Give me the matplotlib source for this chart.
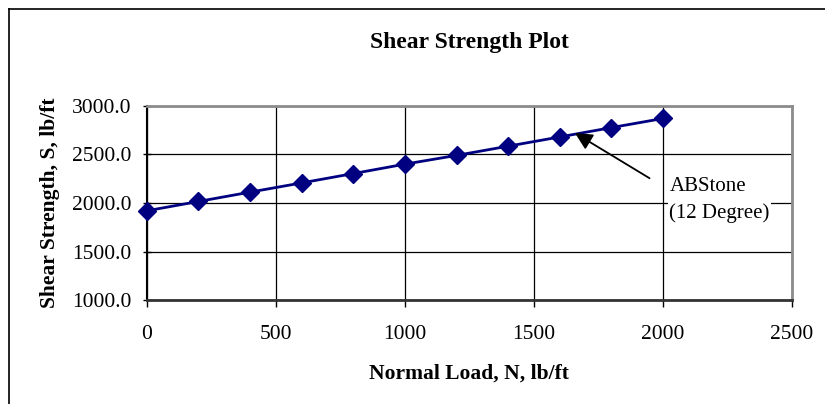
import numpy as np
import matplotlib.pyplot as plt
from matplotlib.ticker import FormatStrFormatter
from matplotlib.lines import Line2D

normal_load = [0, 200, 400, 600, 800, 1000, 1200, 1400, 1600, 1800, 2000]
shear_strength = [1920, 2016, 2112, 2207, 2303, 2400, 2490, 2585, 2680, 2776, 2870]
x_ticks = [0, 500, 1000, 1500, 2000, 2500]
y_ticks = [1000, 1500, 2000, 2500, 3000]

plt.rcParams['font.family'] = ['Liberation Serif', 'DejaVu Serif']

fig = plt.figure(figsize=(8.25, 4.04), dpi=100)
ax = fig.add_axes([0.178, 0.257, 0.782, 0.481])

ax.plot(normal_load, shear_strength, color='#000080', linewidth=2,
        marker='D', markersize=9.5, markeredgecolor='#000080', zorder=3,
        clip_on=False)

ax.set_xlim(0, 2500)
ax.set_ylim(1000, 3000)
ax.set_xticks(x_ticks)
ax.set_yticks(y_ticks)
ax.yaxis.set_major_formatter(FormatStrFormatter('%.1f'))
ax.grid(True, color='black', linewidth=0.9)
ax.set_axisbelow(True)

for side in ['top', 'right']:
    ax.spines[side].set_color('#8c8c8c')
    ax.spines[side].set_linewidth(2)
ax.spines['left'].set_color('black')
ax.spines['left'].set_linewidth(1.5)
ax.spines['bottom'].set_color('#333333')
ax.spines['bottom'].set_linewidth(2)

ax.tick_params(axis='y', direction='inout', length=6, width=1, labelsize=15.5, pad=8)
ax.tick_params(axis='x', direction='out', length=5, width=1, labelsize=15.5, pad=13)

ax.set_title('Shear Strength Plot', fontsize=17, fontweight='bold', pad=42)
ax.set_xlabel('Normal Load, N, lb/ft', fontsize=15.5, fontweight='bold', labelpad=14)
ax.set_ylabel('Shear Strength, S, lb/ft', fontsize=15.5, fontweight='bold', labelpad=9)

# label + arrow
ax.text(2025, 2265, 'ABStone\n(12 Degree)', fontsize=15, ha='left', va='top',
        linespacing=1.45,
        bbox=dict(facecolor='white', edgecolor='none', pad=1), zorder=4)
ax.annotate('', xy=(1659, 2720), xytext=(1948, 2255),
            arrowprops=dict(arrowstyle='-|>', color='black', lw=1.3,
                            mutation_scale=26, shrinkA=0, shrinkB=0),
            zorder=5)

# outer frame (left and top edges visible)
fig.add_artist(Line2D([9 / 825, 9 / 825], [0, 1 - 9 / 404], color='black', lw=1.2))
fig.add_artist(Line2D([9 / 825, 1], [1 - 9 / 404, 1 - 9 / 404], color='black', lw=1.2))

fig.savefig('out.png', dpi=100)
